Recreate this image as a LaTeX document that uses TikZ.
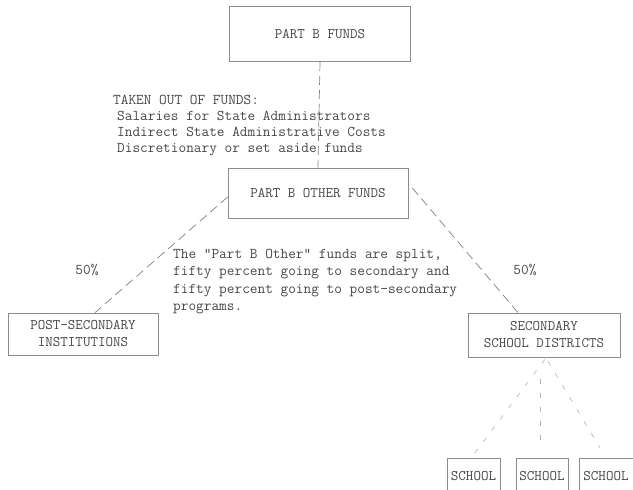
\documentclass[tikz,border=0pt]{standalone}
\usetikzlibrary{calc}
\begin{document}
\begin{tikzpicture}[x=1pt,y=-1pt,
  txt/.style={font=\fontsize{14.9}{17.3}\selectfont\ttfamily, text=black!72, inner sep=0pt},
  fbox/.style={draw=black!45, line width=0.7pt, rectangle, inner sep=0pt, font=\fontsize{14.6}{17}\selectfont\ttfamily, text=black!72, align=center},
  conn/.style={draw=black!50, line width=0.7pt, dash pattern=on 9pt off 5pt},
  faint/.style={draw=black!30, line width=0.6pt, dash pattern=on 5pt off 9pt}]
\useasboundingbox (0,0) rectangle (633,490);
\node[fbox, minimum width=181pt, minimum height=55pt] (pbf) at (320,34) {PART B FUNDS};
\node[fbox, minimum width=180pt, minimum height=50pt] (pbo) at (318,193) {PART B OTHER FUNDS};
\node[fbox, minimum width=150pt, minimum height=42pt] (post) at (83,334) {POST-SECONDARY\\INSTITUTIONS};
\node[fbox, minimum width=152pt, minimum height=44pt] (sec) at (544,335) {SECONDARY\\SCHOOL DISTRICTS};
\node[fbox, minimum width=53pt, minimum height=36pt] (s1) at (473.5,476) {SCHOOL};
\node[fbox, minimum width=52pt, minimum height=36pt] (s2) at (542,476) {SCHOOL};
\node[fbox, minimum width=54pt, minimum height=36pt] (s3) at (606,476) {SCHOOL};
\node[txt, anchor=north west, align=left] (taken) at (113,95) {TAKEN OUT OF FUNDS:\\[-1.3pt]
\hspace*{4pt}Salaries for State Administrators\\[-1.3pt]
\hspace*{4pt}Indirect State Administrative Costs\\[-1.3pt]
\hspace*{4pt}Discretionary or set aside funds};
\node[txt, anchor=north west, align=left] (split) at (173,249) {The "Part B Other" funds are split,\\
fifty percent going to secondary and\\
fifty percent going to post-secondary\\
programs.};
\node[txt] (pl) at (87,270) {50\%};
\node[txt] (pr) at (525,270) {50\%};
\draw[conn] (pbf.south) -- (pbo.north);
\draw[conn] ($(pbo.west)+(0,4)$) -- ($(post.north)+(12,0)$);
\draw[conn] ($(pbo.east)+(4,-5)$) -- ($(sec.north)+(-26,0)$);
\draw[faint] ($(sec.south)+(1,2)$) -- ($(s1.north)+(-2,0)$);
\draw[faint] ($(sec.south)+(-4,22)$) -- ($(s2.north)+(-2,-18)$);
\draw[faint] ($(sec.south)+(4,4)$) -- ($(s3.north)+(-6,-10)$);
\end{tikzpicture}
\end{document}
